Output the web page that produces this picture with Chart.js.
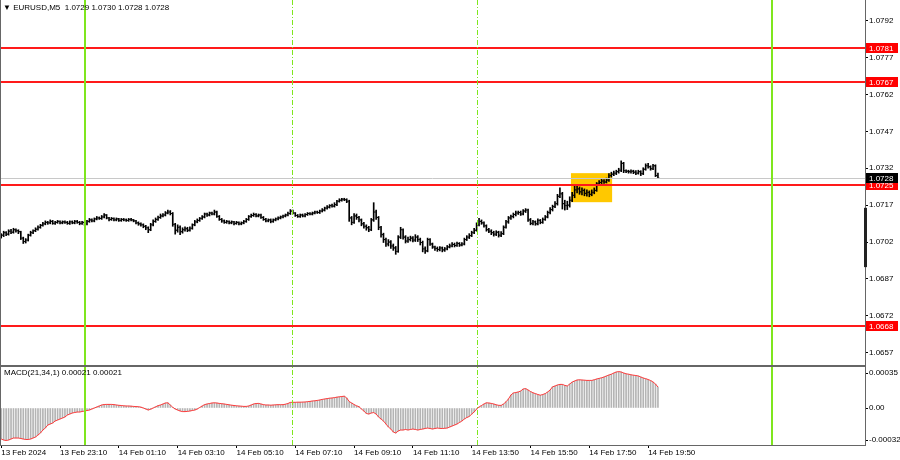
<!DOCTYPE html>
<html><head><meta charset="utf-8">
<script src="https://cdn.jsdelivr.net/npm/chart.js@4"></script>
<style>
html,body{margin:0;padding:0;background:#fff;}
#wrap{position:relative;width:900px;height:460px;overflow:hidden;}
#c{position:absolute;left:0;top:0;}
.lbl{position:absolute;font:8px 'Liberation Sans',Arial,sans-serif;color:#000;white-space:nowrap;line-height:10px;}
</style></head><body>
<div id="wrap">
<canvas id="c" width="900" height="460"></canvas>
<div class="lbl" style="left:3px;top:3px">▼ EURUSD,M5&nbsp; 1.0729 1.0730 1.0728 1.0728</div>
<div class="lbl" style="left:4px;top:368px">MACD(21,34,1) 0.00021 0.00021</div>
</div>
<script>
// ---- data (EURUSD M5, 13 Feb 21:10 .. 14 Feb ~20:10) ----
const closes = [
1.07048,1.07058,1.07052,1.07064,1.07060,1.07070,1.07066,1.07062,1.07036,1.07022,
1.07028,1.07048,1.07058,1.07066,1.07072,1.07080,1.07088,1.07094,1.07100,1.07098,
1.07104,1.07096,1.07100,1.07104,1.07098,1.07102,1.07100,1.07096,1.07102,1.07098,
1.07104,1.07100,1.07096,1.07100,1.07094,1.07104,1.07110,1.07106,1.07114,1.07118,
1.07116,1.07122,1.07130,1.07118,1.07112,1.07116,1.07110,1.07114,1.07108,1.07112,
1.07110,1.07108,1.07112,1.07110,1.07106,1.07098,1.07094,1.07090,1.07084,1.07078,
1.07070,1.07090,1.07104,1.07112,1.07120,1.07126,1.07130,1.07138,1.07142,1.07136,
1.07092,1.07068,1.07080,1.07062,1.07070,1.07074,1.07068,1.07076,1.07090,1.07102,
1.07108,1.07116,1.07122,1.07134,1.07130,1.07138,1.07134,1.07142,1.07124,1.07112,
1.07106,1.07100,1.07104,1.07098,1.07102,1.07096,1.07100,1.07094,1.07098,1.07104,
1.07112,1.07124,1.07128,1.07132,1.07126,1.07130,1.07120,1.07112,1.07106,1.07110,
1.07104,1.07110,1.07114,1.07118,1.07122,1.07126,1.07130,1.07136,1.07146,1.07138,
1.07128,1.07124,1.07130,1.07126,1.07132,1.07136,1.07134,1.07138,1.07142,1.07140,
1.07146,1.07150,1.07158,1.07162,1.07168,1.07166,1.07172,1.07186,1.07190,1.07194,
1.07192,1.07186,1.07118,1.07100,1.07126,1.07120,1.07110,1.07094,1.07084,1.07078,
1.07070,1.07110,1.07142,1.07120,1.07080,1.07050,1.07030,1.07012,1.07020,1.07004,
1.06996,1.06982,1.07040,1.07070,1.07040,1.07024,1.07030,1.07036,1.07028,1.07040,
1.07030,1.07018,1.06992,1.06984,1.07030,1.07012,1.07000,1.06994,1.06990,1.06996,
1.06988,1.06992,1.07000,1.07004,1.07010,1.07006,1.07014,1.07008,1.07012,1.07030,
1.07040,1.07046,1.07058,1.07068,1.07090,1.07104,1.07098,1.07086,1.07070,1.07064,
1.07058,1.07052,1.07060,1.07048,1.07054,1.07080,1.07102,1.07118,1.07124,1.07132,
1.07138,1.07140,1.07134,1.07146,1.07150,1.07110,1.07096,1.07102,1.07094,1.07108,
1.07100,1.07112,1.07122,1.07140,1.07152,1.07164,1.07176,1.07206,1.07216,1.07176,
1.07168,1.07170,1.07190,1.07210,1.07232,1.07236,1.07224,1.07230,1.07218,1.07222,
1.07214,1.07222,1.07230,1.07256,1.07262,1.07268,1.07264,1.07272,1.07290,1.07296,
1.07300,1.07306,1.07312,1.07340,1.07310,1.07308,1.07306,1.07308,1.07304,1.07300,
1.07306,1.07298,1.07316,1.07330,1.07326,1.07318,1.07330,1.07290,1.07280];
const opens = [
1.07044,1.07048,1.07058,1.07052,1.07064,1.07060,1.07070,1.07066,1.07062,1.07036,
1.07022,1.07028,1.07048,1.07058,1.07066,1.07072,1.07080,1.07088,1.07094,1.07100,
1.07098,1.07104,1.07096,1.07100,1.07104,1.07098,1.07102,1.07100,1.07096,1.07102,
1.07098,1.07104,1.07100,1.07096,1.07100,1.07094,1.07104,1.07110,1.07106,1.07114,
1.07118,1.07116,1.07122,1.07130,1.07118,1.07112,1.07116,1.07110,1.07114,1.07108,
1.07112,1.07110,1.07108,1.07112,1.07110,1.07106,1.07098,1.07094,1.07090,1.07084,
1.07078,1.07070,1.07090,1.07104,1.07112,1.07120,1.07126,1.07130,1.07138,1.07142,
1.07136,1.07092,1.07068,1.07080,1.07062,1.07070,1.07074,1.07068,1.07076,1.07090,
1.07102,1.07108,1.07116,1.07122,1.07134,1.07130,1.07138,1.07134,1.07142,1.07124,
1.07112,1.07106,1.07100,1.07104,1.07098,1.07102,1.07096,1.07100,1.07094,1.07098,
1.07104,1.07112,1.07124,1.07128,1.07132,1.07126,1.07130,1.07120,1.07112,1.07106,
1.07110,1.07104,1.07110,1.07114,1.07118,1.07122,1.07126,1.07130,1.07136,1.07146,
1.07138,1.07128,1.07124,1.07130,1.07126,1.07132,1.07136,1.07134,1.07138,1.07142,
1.07140,1.07146,1.07150,1.07158,1.07162,1.07168,1.07166,1.07172,1.07186,1.07190,
1.07194,1.07192,1.07186,1.07118,1.07100,1.07126,1.07120,1.07110,1.07094,1.07084,
1.07078,1.07070,1.07110,1.07142,1.07120,1.07080,1.07050,1.07030,1.07012,1.07020,
1.07004,1.06996,1.06982,1.07040,1.07070,1.07040,1.07024,1.07030,1.07036,1.07028,
1.07040,1.07030,1.07018,1.06992,1.06984,1.07030,1.07012,1.07000,1.06994,1.06990,
1.06996,1.06988,1.06992,1.07000,1.07004,1.07010,1.07006,1.07014,1.07008,1.07012,
1.07030,1.07040,1.07046,1.07058,1.07068,1.07090,1.07104,1.07098,1.07086,1.07070,
1.07064,1.07058,1.07052,1.07060,1.07048,1.07054,1.07080,1.07102,1.07118,1.07124,
1.07132,1.07138,1.07140,1.07134,1.07146,1.07150,1.07110,1.07096,1.07102,1.07094,
1.07108,1.07100,1.07112,1.07122,1.07140,1.07152,1.07164,1.07176,1.07206,1.07216,
1.07176,1.07168,1.07170,1.07190,1.07210,1.07232,1.07236,1.07224,1.07230,1.07218,
1.07222,1.07214,1.07222,1.07230,1.07256,1.07262,1.07268,1.07264,1.07272,1.07290,
1.07296,1.07300,1.07306,1.07312,1.07340,1.07310,1.07308,1.07306,1.07308,1.07304,
1.07300,1.07306,1.07298,1.07316,1.07330,1.07326,1.07318,1.07330,1.07290];
const highs = [
1.07054,1.07064,1.07062,1.07070,1.07072,1.07076,1.07074,1.07070,1.07064,1.07040,
1.07034,1.07052,1.07064,1.07070,1.07078,1.07086,1.07092,1.07100,1.07106,1.07104,
1.07110,1.07108,1.07104,1.07108,1.07106,1.07106,1.07106,1.07104,1.07106,1.07106,
1.07108,1.07108,1.07104,1.07104,1.07102,1.07108,1.07116,1.07114,1.07118,1.07124,
1.07122,1.07128,1.07136,1.07132,1.07120,1.07120,1.07118,1.07118,1.07116,1.07116,
1.07116,1.07114,1.07116,1.07116,1.07112,1.07108,1.07102,1.07098,1.07094,1.07088,
1.07082,1.07096,1.07110,1.07118,1.07126,1.07134,1.07136,1.07144,1.07150,1.07148,
1.07140,1.07096,1.07090,1.07086,1.07078,1.07082,1.07080,1.07082,1.07094,1.07108,
1.07114,1.07120,1.07128,1.07138,1.07138,1.07142,1.07142,1.07150,1.07146,1.07128,
1.07116,1.07110,1.07108,1.07106,1.07106,1.07104,1.07104,1.07102,1.07102,1.07108,
1.07116,1.07128,1.07134,1.07138,1.07136,1.07134,1.07134,1.07124,1.07116,1.07114,
1.07114,1.07114,1.07118,1.07122,1.07126,1.07130,1.07134,1.07142,1.07152,1.07150,
1.07140,1.07132,1.07134,1.07134,1.07136,1.07140,1.07140,1.07142,1.07146,1.07146,
1.07150,1.07156,1.07162,1.07168,1.07172,1.07174,1.07180,1.07190,1.07196,1.07198,
1.07198,1.07196,1.07190,1.07124,1.07136,1.07134,1.07124,1.07114,1.07100,1.07090,
1.07084,1.07116,1.07180,1.07150,1.07124,1.07084,1.07056,1.07036,1.07030,1.07026,
1.07012,1.07002,1.07046,1.07080,1.07074,1.07046,1.07040,1.07044,1.07042,1.07050,
1.07046,1.07036,1.07024,1.07000,1.07036,1.07034,1.07016,1.07004,1.07000,1.07002,
1.07000,1.06998,1.07006,1.07012,1.07018,1.07016,1.07020,1.07018,1.07018,1.07036,
1.07046,1.07054,1.07064,1.07076,1.07098,1.07116,1.07110,1.07102,1.07090,1.07076,
1.07070,1.07064,1.07066,1.07064,1.07062,1.07086,1.07108,1.07124,1.07130,1.07138,
1.07146,1.07146,1.07146,1.07152,1.07156,1.07154,1.07116,1.07108,1.07106,1.07114,
1.07112,1.07118,1.07128,1.07146,1.07160,1.07170,1.07184,1.07214,1.07240,1.07222,
1.07190,1.07186,1.07204,1.07222,1.07250,1.07252,1.07244,1.07240,1.07236,1.07232,
1.07228,1.07232,1.07240,1.07262,1.07270,1.07276,1.07274,1.07280,1.07298,1.07304,
1.07308,1.07312,1.07320,1.07350,1.07344,1.07314,1.07312,1.07314,1.07312,1.07310,
1.07312,1.07310,1.07322,1.07338,1.07340,1.07330,1.07336,1.07334,1.07300];
const lows = [
1.07036,1.07042,1.07046,1.07048,1.07054,1.07056,1.07060,1.07054,1.07030,1.07014,
1.07016,1.07024,1.07044,1.07054,1.07062,1.07068,1.07076,1.07084,1.07090,1.07092,
1.07094,1.07092,1.07092,1.07096,1.07094,1.07094,1.07096,1.07092,1.07092,1.07094,
1.07094,1.07096,1.07090,1.07092,1.07088,1.07090,1.07100,1.07102,1.07102,1.07110,
1.07112,1.07112,1.07118,1.07114,1.07106,1.07108,1.07106,1.07106,1.07104,1.07104,
1.07106,1.07104,1.07104,1.07106,1.07102,1.07094,1.07088,1.07084,1.07078,1.07070,
1.07058,1.07066,1.07086,1.07100,1.07108,1.07116,1.07122,1.07126,1.07134,1.07130,
1.07084,1.07052,1.07060,1.07050,1.07056,1.07064,1.07062,1.07064,1.07072,1.07086,
1.07098,1.07104,1.07112,1.07118,1.07124,1.07126,1.07130,1.07130,1.07120,1.07108,
1.07100,1.07096,1.07096,1.07094,1.07094,1.07090,1.07092,1.07090,1.07090,1.07094,
1.07100,1.07108,1.07120,1.07124,1.07122,1.07122,1.07116,1.07108,1.07102,1.07102,
1.07098,1.07100,1.07106,1.07110,1.07114,1.07118,1.07122,1.07126,1.07132,1.07134,
1.07124,1.07120,1.07120,1.07122,1.07122,1.07128,1.07130,1.07130,1.07134,1.07136,
1.07136,1.07142,1.07146,1.07154,1.07158,1.07162,1.07162,1.07168,1.07182,1.07186,
1.07188,1.07180,1.07104,1.07090,1.07096,1.07112,1.07102,1.07086,1.07076,1.07068,
1.07062,1.07066,1.07104,1.07112,1.07070,1.07040,1.07018,1.07002,1.07004,1.06994,
1.06986,1.06970,1.06978,1.07034,1.07032,1.07016,1.07018,1.07024,1.07020,1.07022,
1.07022,1.07008,1.06980,1.06974,1.06980,1.07006,1.06994,1.06986,1.06982,1.06984,
1.06980,1.06982,1.06988,1.06996,1.07000,1.07000,1.07002,1.07002,1.07004,1.07008,
1.07026,1.07034,1.07042,1.07054,1.07064,1.07086,1.07092,1.07080,1.07064,1.07058,
1.07050,1.07044,1.07046,1.07040,1.07042,1.07050,1.07076,1.07096,1.07112,1.07118,
1.07126,1.07132,1.07128,1.07130,1.07140,1.07104,1.07090,1.07090,1.07088,1.07090,
1.07094,1.07096,1.07108,1.07118,1.07134,1.07146,1.07160,1.07170,1.07200,1.07154,
1.07150,1.07152,1.07162,1.07184,1.07200,1.07220,1.07214,1.07212,1.07208,1.07206,
1.07204,1.07208,1.07216,1.07226,1.07250,1.07256,1.07258,1.07260,1.07266,1.07284,
1.07290,1.07294,1.07300,1.07306,1.07302,1.07302,1.07300,1.07300,1.07298,1.07294,
1.07296,1.07290,1.07294,1.07312,1.07320,1.07312,1.07314,1.07286,1.07280];
const macdMain = [
-0.00031,-0.00032,-0.000325,-0.00032,-0.00031,-0.0003,-0.0003,-0.0003,-0.000305,-0.00031,
-0.000315,-0.000315,-0.00031,-0.0003,-0.00029,-0.00027,-0.00025,-0.00022,-0.0002,-0.00017,
-0.00016,-0.00015,-0.00013,-0.00012,-0.00011,-0.0001,-0.00009,-0.00007,-0.00006,-0.00005,
-0.000045,-0.00004,-0.00004,-0.000035,-0.00003,-0.000025,-0.00002,-0.00001,0,0.00001,
0.00002,0.00003,0.000035,0.000036,0.000036,0.000036,0.000034,0.00003,0.000027,0.000025,
0.000022,0.00002,0.00002,0.000018,0.000016,0.000014,0.000013,0.000008,0,-0.00001,
-0.00002,-0.000012,0,0.000012,0.000023,0.00003,0.00004,0.00005,0.000052,0.00003,
0.000007,-0.00001,-0.00002,-0.00003,-0.000036,-0.000036,-0.000034,-0.00003,-0.000025,-0.00002,
-0.00001,0.000005,0.00002,0.000034,0.00004,0.000045,0.00005,0.000052,0.00005,0.000046,
0.000043,0.00004,0.000036,0.000032,0.000028,0.000025,0.000022,0.00002,0.000018,0.000016,
0.000016,0.00002,0.00003,0.00004,0.000045,0.000046,0.00004,0.000034,0.00003,0.00003,
0.000028,0.00003,0.000032,0.000033,0.000033,0.000033,0.000038,0.000045,0.000056,0.000057,
0.000057,0.000058,0.000058,0.000059,0.00006,0.000063,0.000066,0.00007,0.000072,0.000076,
0.00008,0.000086,0.00009,0.000094,0.000098,0.0001,0.000104,0.000108,0.000112,0.000115,
0.000118,0.0001,0.000065,0.00005,0.000035,0.000022,0.000013,-0.00001,-0.00003,-0.000055,
-0.00006,-0.00005,-0.000046,-0.00006,-0.00009,-0.00011,-0.00013,-0.00016,-0.00019,-0.00021,
-0.00024,-0.00025,-0.00023,-0.00022,-0.00022,-0.000215,-0.00022,-0.000215,-0.00021,-0.000215,
-0.00022,-0.000215,-0.00021,-0.000205,-0.0002,-0.000205,-0.00021,-0.000205,-0.0002,-0.000204,
-0.000205,-0.000203,-0.0002,-0.00019,-0.00018,-0.00017,-0.00016,-0.000145,-0.00013,-0.00011,
-0.000095,-0.000085,-0.00006,-0.00004,-0.00001,0.00001,0.000025,0.00004,0.000052,0.00005,
0.000046,0.00004,0.000032,0.000027,0.000026,0.00004,0.000062,0.00009,0.00013,0.00015,
0.000155,0.00016,0.00017,0.00019,0.000194,0.00018,0.000165,0.000152,0.000144,0.000135,
0.000128,0.000135,0.000144,0.00016,0.00018,0.000212,0.00022,0.00023,0.000236,0.000236,
0.000226,0.00022,0.00024,0.000259,0.00027,0.00028,0.000282,0.00028,0.000278,0.000276,
0.000276,0.000276,0.000282,0.00029,0.000296,0.000302,0.00031,0.00032,0.00033,0.000338,
0.00035,0.00036,0.000364,0.00036,0.00035,0.000342,0.000338,0.000332,0.000328,0.000325,
0.00032,0.00031,0.0003,0.000293,0.000285,0.000275,0.00026,0.00024,0.00021];
const macdSignal = macdMain.slice(); // signal period 1 = main line

const xTickLabels = ['13 Feb 2024','13 Feb 23:10','14 Feb 01:10','14 Feb 03:10','14 Feb 05:10','14 Feb 07:10',
  '14 Feb 09:10','14 Feb 11:10','14 Feb 13:50','14 Feb 15:50','14 Feb 17:50','14 Feb 19:50'];
const priceTicks = [1.0792,1.0777,1.0762,1.0747,1.0732,1.0717,1.0702,1.0687,1.0672,1.0657];
const macdTicks = [0.00035,0,-0.00032];
const levels = [1.0781,1.0767,1.0725,1.0668];
const lastPrice = 1.0728;
const zoneBox = {x0:232.5, x1:249.3, p0:1.07300, p1:1.07182};
const daySeps = [34, 314.6];
const sessionSeps = [118.5, 194.2];
const axisMark = [1.07159, 1.06918];

// ---- layout constants ----
const TOTAL_SLOTS = 353, TICK_EVERY = 24;
const FONT = {family:"'Liberation Sans', Arial, sans-serif", size:8};
const slotLabels = Array.from({length: TOTAL_SLOTS}, (_, i) => i);

const overlay = {
  id: 'overlay',
  beforeDatasetsDraw(chart) {
    const {ctx, scales:{x, y}} = chart;
    ctx.save();
    ctx.fillStyle = '#ffc800';
    const bx0 = x.getPixelForValue(zoneBox.x0), bx1 = x.getPixelForValue(zoneBox.x1);
    const by0 = y.getPixelForValue(zoneBox.p0), by1 = y.getPixelForValue(zoneBox.p1);
    ctx.fillRect(bx0, by0, bx1 - bx0, by1 - by0);
    ctx.restore();
  },
  afterDatasetsDraw(chart) {
    const {ctx, chartArea:ca, scales:{x, y, y2}} = chart;
    ctx.save();
    // open / close ticks
    ctx.fillStyle = '#000';
    for (let i = 0; i < closes.length; i++) {
      const px = x.getPixelForValue(i);
      ctx.fillRect(px - 1.5, y.getPixelForValue(opens[i]) - 0.5, 1, 1);
      ctx.fillRect(px + 0.5, y.getPixelForValue(closes[i]) - 0.5, 1, 1);
    }
    // horizontal levels
    ctx.lineWidth = 1;
    ctx.strokeStyle = '#c8c8c8';
    let yy = Math.round(y.getPixelForValue(lastPrice)) + 0.5;
    ctx.beginPath(); ctx.moveTo(ca.left, yy); ctx.lineTo(ca.right, yy); ctx.stroke();
    ctx.lineWidth = 2;
    ctx.strokeStyle = '#ff1a1a';
    levels.forEach(v => {
      const py = Math.round(y.getPixelForValue(v));
      ctx.beginPath(); ctx.moveTo(ca.left, py); ctx.lineTo(ca.right, py); ctx.stroke();
    });
    // vertical separators
    ctx.strokeStyle = '#7fe61e';
    daySeps.forEach(v => {
      const px = Math.round(x.getPixelForValue(v));
      ctx.beginPath(); ctx.moveTo(px, ca.top); ctx.lineTo(px, ca.bottom); ctx.stroke();
    });
    ctx.lineWidth = 1;
    ctx.strokeStyle = '#7fe61e';
    ctx.setLineDash([5, 2, 1, 2]);
    sessionSeps.forEach(v => {
      const px = Math.round(x.getPixelForValue(v)) + 0.5;
      ctx.beginPath(); ctx.moveTo(px, ca.top); ctx.lineTo(px, ca.bottom); ctx.stroke();
    });
    ctx.setLineDash([]);
    ctx.restore();
  },
  afterDraw(chart) {
    const {ctx, chartArea:ca, scales:{x, y, y2}} = chart;
    ctx.save();
    // frame + panel separator
    ctx.fillStyle = '#666';
    ctx.fillRect(0, 0, 1, ca.bottom);
    ctx.fillRect(0, y.bottom - 1, ca.right, 2);
    ctx.fillStyle = '#222';
    ctx.fillRect(ca.right - 1, y.getPixelForValue(axisMark[0]), 3, y.getPixelForValue(axisMark[1]) - y.getPixelForValue(axisMark[0]));
    // axis price boxes
    ctx.font = "8px 'Liberation Sans', Arial, sans-serif";
    ctx.textBaseline = 'middle';
    ctx.textAlign = 'left';
    const box = (v, bg) => {
      const py = Math.round(y.getPixelForValue(v));
      ctx.fillStyle = bg;
      ctx.fillRect(ca.right + 1, py - 5, 32, 10);
      ctx.fillStyle = '#fff';
      ctx.fillText(v.toFixed(4), ca.right + 4, py + 0.5);
    };
    levels.forEach(v => box(v, '#ff0000'));
    box(lastPrice, '#000');
    ctx.restore();
  }
};

const noPad = ax => { ax.paddingTop = 0; ax.paddingBottom = 0; ax.width = 35; };

new Chart(document.getElementById('c'), {
  type: 'bar',
  data: {
    labels: slotLabels,
    datasets: [
      {
        label: 'EURUSD,M5',
        data: highs.map((h, i) => [lows[i], h]),
        xAxisID: 'x', yAxisID: 'y',
        backgroundColor: '#000', borderWidth: 0,
        barThickness: 1, grouped: false, order: 2
      },
      {
        label: 'MACD',
        data: macdMain,
        xAxisID: 'x', yAxisID: 'y2',
        backgroundColor: '#b4b4b4', borderWidth: 0,
        barThickness: 1, grouped: false, order: 3
      },
      {
        type: 'line',
        label: 'Signal',
        data: macdSignal,
        xAxisID: 'x', yAxisID: 'y2',
        borderColor: '#ff3a3a', borderWidth: 1,
        pointRadius: 0, tension: 0, fill: false, order: 1
      }
    ]
  },
  options: {
    responsive: false, animation: false, events: [],
    layout: {padding: 0},
    plugins: {legend: {display: false}, tooltip: {enabled: false}, title: {display: false}},
    scales: {
      x: {
        type: 'category', offset: true,
        grid: {offset: false, drawOnChartArea: false, drawTicks: true, tickLength: 3, color: '#000'},
        border: {display: true, color: '#666'},
        ticks: {
          autoSkip: false, maxRotation: 0, minRotation: 0, align: 'start', padding: 0,
          font: FONT, color: '#000',
          callback: (v, i) => (i % TICK_EVERY === 0 && xTickLabels[i / TICK_EVERY]) ? xTickLabels[i / TICK_EVERY] : null
        },
        afterFit: ax => { ax.height = 15; ax.paddingLeft = 0; ax.paddingRight = 0; }
      },
      y: {
        position: 'right', stack: 'panes', stackWeight: 366,
        min: 1.06516, max: 1.08004,
        afterBuildTicks: ax => { ax.ticks = priceTicks.map(v => ({value: v})); },
        grid: {drawOnChartArea: false, drawTicks: true, tickLength: 3, color: '#000'},
        border: {display: true, color: '#666'},
        ticks: {font: FONT, color: '#000', padding: 1, callback: v => Number(v).toFixed(4)},
        afterFit: noPad
      },
      y2: {
        position: 'right', stack: 'panes', stackWeight: 79,
        min: -0.00037, max: 0.00042,
        afterBuildTicks: ax => { ax.ticks = macdTicks.map(v => ({value: v})); },
        grid: {drawOnChartArea: false, drawTicks: true, tickLength: 3, color: '#000'},
        border: {display: true, color: '#666'},
        ticks: {font: FONT, color: '#000', padding: 1, callback: v => v === 0 ? '0.00' : Number(v).toFixed(5)},
        afterFit: noPad
      }
    }
  },
  plugins: [overlay]
});
</script>
</body></html>
